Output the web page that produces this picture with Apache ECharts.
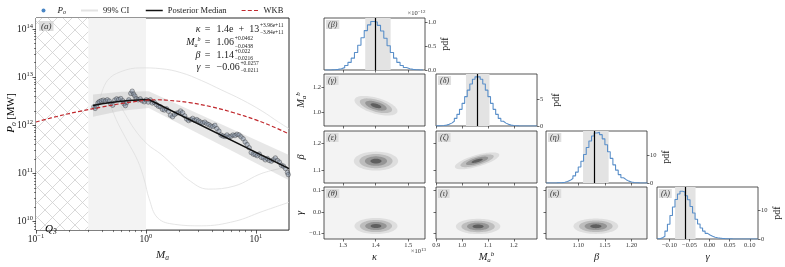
<!DOCTYPE html>
<html><head><meta charset="utf-8">
<script src="https://cdn.jsdelivr.net/npm/echarts@6/dist/echarts.min.js"></script>
<style>html,body{margin:0;padding:0;background:#fff}#c{width:785px;height:267px}</style>
</head><body><div id="c"></div>
<script>
// ---------------- DATA ----------------
// main panel (a)
const maTicks = [0.1, 1, 10];
const pTicks = [1e10, 1e11, 1e12, 1e13, 1e14];
const maRange = [0.1, 20];
const pRange = [6.6e9, 1.7e14];
const hatchRange = [0.1, 0.3];
const shadeRange = [0.3, 1.0];
const obsMa = [0.336,0.345,0.355,0.366,0.376,0.392,0.409,0.427,0.445,0.464,0.478,0.498,0.520,0.542,0.565,0.590,0.615,0.632,0.650,0.670,0.698,0.728,0.750,0.771,0.793,0.815,0.851,0.887,0.925,0.966,1.007,1.05,1.096,1.143,1.191,1.245,1.297,1.352,1.413,1.472,1.538,1.603,1.671,1.746,1.820,1.897,1.982,2.065,2.153,2.249,2.344,2.443,2.553,2.661,2.773,2.897,3.020,3.148,3.289,3.428,3.581,3.733,3.890,4.064,4.236,4.416,4.613,4.808,5.012,5.236,5.458,5.689,5.943,6.194,6.457,6.745,7.031,7.328,7.656,7.980,8.318,8.690,9.057,9.462,9.863,10.28,10.74,11.19,11.67,12.19,12.71,13.24,13.83,14.42,15.03,15.70,16.37,17.06,17.82,18.58,19.36,19.7];
const obsP = [2.42e12,2.24e12,2.49e12,2.90e12,3.08e12,3.23e12,3.33e12,3.18e12,3.38e12,3.18e12,2.81e12,2.61e12,3.33e12,3.54e12,3.43e12,3.59e12,3.23e12,2.81e12,2.56e12,2.99e12,3.38e12,4.59e12,5.11e12,4.45e12,4.06e12,3.59e12,3.38e12,3.54e12,3.23e12,3.08e12,3.38e12,3.03e12,3.38e12,2.90e12,2.99e12,2.69e12,2.49e12,2.42e12,2.14e12,2.07e12,2.20e12,1.95e12,1.62e12,1.50e12,1.67e12,1.78e12,1.83e12,1.98e12,1.83e12,1.57e12,1.35e12,1.25e12,1.31e12,1.39e12,1.27e12,1.31e12,1.23e12,1.16e12,1.12e12,1.16e12,1.07e12,1.03e12,9.64e11,9.35e11,9.95e11,8.53e11,7.55e11,6.28e11,6.00e11,5.82e11,6.28e11,5.74e11,5.92e11,6.28e11,6.10e11,6.49e11,6.28e11,5.74e11,5.24e11,4.49e11,3.97e11,3.41e11,2.71e11,2.51e11,2.44e11,2.33e11,2.51e11,2.16e11,2.09e11,1.91e11,2.03e11,1.85e11,1.79e11,1.91e11,2.09e11,1.85e11,1.71e11,1.47e11,1.41e11,1.26e11,1.04e11,9.4e10];
const medMa = [0.33,0.4,0.5,0.6,0.7,0.85,1.06,20];
const medP = [2.57e12,2.8e12,3.0e12,3.15e12,3.27e12,3.35e12,3.43e12,1.25e11];
const bandMa = [0.33,0.6,1.06,20];
const bandLo = [1.51e12,2.0e12,2.29e12,7.2e10];
const bandHi = [4.37e12,5.0e12,5.1e12,2.4e11];
const wkbMa = [0.1,0.16,0.25,0.4,0.63,1.0,1.26,1.58,2.5,4.0,6.3,10,14,20];
const wkbP = [1.17e12,1.55e12,1.95e12,2.40e12,2.88e12,3.31e12,3.39e12,3.31e12,2.95e12,2.40e12,1.82e12,1.29e12,9.55e11,6.61e11];
const ciLineAMa = [0.386,0.446,0.59,0.90,1.37,2.09,3.2,4.88,7.45,11.35,16.1,20];
const ciLineAP = [3.9e12,8.5e12,1.3e13,1.56e13,1.5e13,1.24e13,8.5e12,5.4e12,3.4e12,1.98e12,1.16e12,8.5e11];
const ciLineBMa = [0.478,0.55,0.68,0.84,0.965,1.07,1.28,1.82,3.2,6.46,11.35,20];
const ciLineBP = [2.5e12,1.16e12,4.6e11,1.85e11,7.4e10,2.95e10,1.18e10,8.7e9,8.1e9,1.01e10,1.6e10,2.5e10];
const ciLineCMa = [0.59,0.78,1.035,1.37,1.82,2.42,3.68,6.46,11.35,20];
const ciLineCP = [2.5e12,8.5e11,4.0e11,2.5e11,1.37e11,7.4e10,4.7e10,5.5e10,1.0e11,1.37e11];
const annotSym = ['κ','M','β','γ'];
const annotVal = ['1.4e  +  13','1.06','1.14','−0.06'];
const annotUp = ['+3.96e+11','+0.0462','+0.022','+0.0257'];
const annotDn = ['−3.84e+11','−0.0438','−0.0216','−0.0211'];

// corner plot
const paramRange = [[1.2415,1.5515],[0.899,1.29],[1.0395,1.229],[-0.131,0.1205]];
const rowRange = [null,[0.894,1.307],[1.05,1.247],[-0.127,0.1175]];
const paramTicks = [[1.3,1.4,1.5],[0.9,1.0,1.1,1.2],[1.10,1.15,1.20],[-0.10,-0.05,0.00,0.05,0.10]];
const paramDec = [1,1,2,2];
const rowTicks = [null,[1.0,1.2],[1.1,1.2],[-0.1,0.0,0.1]];
const histMax = [1.095,9.57,18.6,18.4];
const histTicks = [[0,0.5,1.0],[0,5],[0,10],[0,10]];
const histDec = [1,0,0,0];
const histStart = [1.245,0.90,1.04,-0.13];
const histWidth = [0.01,0.01,0.005,0.00625];
const kappaPdf = [0.001,0.003,0.006,0.013,0.027,0.05,0.095,0.16,0.25,0.37,0.52,0.68,0.83,0.95,1.02,1.01,0.94,0.82,0.67,0.51,0.37,0.25,0.16,0.095,0.052,0.027,0.013,0.006,0.003,0.001];
const mbPdf = [0.02,0.04,0.08,0.16,0.30,0.53,0.88,1.40,2.14,3.06,4.17,5.4,6.6,7.74,8.6,9.05,9.05,8.6,7.74,6.6,5.4,4.17,3.06,2.14,1.40,0.88,0.53,0.30,0.16,0.08,0.04,0.02,0.01,0.01,0,0,0,0,0];
const betaPdf = [0,0.01,0.01,0.03,0.07,0.14,0.28,0.53,0.95,1.6,2.55,3.9,5.7,7.8,10.2,12.7,15.0,16.8,17.9,18.1,17.3,15.8,13.7,11.2,8.8,6.5,4.6,3.0,1.9,1.2,0.67,0.36,0.19,0.09,0.04,0.02,0.01,0];
const gammaPdf = [0.1,0.4,1.0,2.8,5.2,8.3,11.3,14.0,15.9,16.9,16.6,15.3,13.9,11.5,9.2,7.0,5.3,3.9,2.8,2.0,1.4,0.95,0.65,0.45,0.3,0.2,0.13,0.08,0.05,0.03,0.02,0.01,0.01,0,0,0,0,0,0,0];
const histVals = [kappaPdf, mbPdf, betaPdf, gammaPdf];
const paramMedian = [1.402,1.061,1.133,-0.062];
const paramCiLo = [1.368,1.015,1.109,-0.086];
const paramCiHi = [1.446,1.106,1.157,-0.035];
// 2D panels, order: (κ,Mb) (κ,β) (Mb,β) (κ,γ) (Mb,γ) (β,γ)
const pairCx = [1.401,1.401,1.058,1.401,1.062,1.133];
const pairCy = [1.055,1.133,1.134,-0.066,-0.068,-0.067];
const pairSx = [0.033,0.034,0.043,0.033,0.043,0.021];
const pairSy = [0.039,0.018,0.016,0.019,0.018,0.018];
const pairRho = [-0.55,0,0.7,0,0,0];
const contourLevels = [2,1.5,1,0.5];
const panelLabels = ['β','γ','δ','ε','ζ','η','θ','ι','κ','λ'];

// ---------------- BUILD ----------------
const FONT = 'Liberation Serif';
const SERIF = '"Liberation Serif","DejaVu Serif",serif';
const L = Math.log10;
const INK = '#2b2b2b';
const mctx = document.createElement('canvas').getContext('2d');
function tw(t, size, style){ mctx.font = (style||'normal') + ' ' + size + 'px "' + FONT + '"'; return mctx.measureText(t).width; }
function fmt(v,d){ const s = Math.abs(v).toFixed(d); return (v < -1e-9 ? '−' : '') + s; }
const NOLINE = {show:false,onZero:false};

const hatch = document.createElement('canvas');
hatch.width = 15; hatch.height = 15;
(function(){ const g = hatch.getContext('2d'); g.fillStyle='#ffffff'; g.fillRect(0,0,15,15);
  g.strokeStyle='#cfcfcf'; g.lineWidth=0.8; g.beginPath(); g.moveTo(0,0); g.lineTo(15,15); g.moveTo(15,0); g.lineTo(0,15); g.stroke(); })();

const grids=[], xAxes=[], yAxes=[], series=[], graphics=[];
const xMin=L(maRange[0]), xMax=L(maRange[1]), yMin=L(pRange[0]), yMax=L(pRange[1]);
grids.push({left:36, top:18, width:253, height:221, show:true, borderColor:INK, borderWidth:1, backgroundColor:'#fff', z:0});
const powRich = { b:{fontFamily:SERIF,fontSize:9.5,color:'#222',lineHeight:13}, s:{fontFamily:SERIF,fontSize:6.5,color:'#222',lineHeight:7,verticalAlign:'top'} };
function powLabel(v){ const e=Math.round(v); return '{b|10}{s|'+(e<0?'−':'')+Math.abs(e)+'}'; }
const subRich = { i:{fontFamily:SERIF,fontStyle:'italic',fontSize:11,color:'#222',lineHeight:14},
                  sub:{fontFamily:SERIF,fontStyle:'italic',fontSize:7.5,color:'#222',lineHeight:7,verticalAlign:'bottom'},
                  sup:{fontFamily:SERIF,fontStyle:'italic',fontSize:7.5,color:'#222',lineHeight:7,verticalAlign:'top'},
                  t:{fontFamily:SERIF,fontSize:10.5,color:'#222',lineHeight:14} };
xAxes.push({gridIndex:0,type:'value',position:'bottom',min:xMin,max:xMax,axisLine:NOLINE,splitLine:{show:false},
  axisTick:{customValues:maTicks.map(L),length:3.5,lineStyle:{color:INK,width:0.8}},
  axisLabel:{customValues:maTicks.map(L),formatter:powLabel,rich:powRich,margin:3},
  name:'{i|M}{sub|a}',nameLocation:'middle',nameGap:11,nameTextStyle:{rich:subRich}});
yAxes.push({gridIndex:0,type:'value',position:'left',min:yMin,max:yMax,axisLine:NOLINE,splitLine:{show:false},
  axisTick:{customValues:pTicks.map(L),length:3.5,lineStyle:{color:INK,width:0.8}},
  axisLabel:{customValues:pTicks.map(L),formatter:powLabel,rich:powRich,margin:3}});
// minor ticks
const minorX=[], minorY=[];
[-1,0,1].forEach(d=>{ for(let k=2;k<=9;k++){ const v=d+L(k); if(v<xMax-1e-6) minorX.push(v);} });
[9,10,11,12,13,14].forEach(d=>{ for(let k=2;k<=9;k++){ const v=d+L(k); if(v>yMin && v<yMax) minorY.push(v);} });
xAxes.push({gridIndex:0,type:'value',position:'bottom',min:xMin,max:xMax,axisLine:NOLINE,splitLine:{show:false},axisLabel:{show:false},
  axisTick:{customValues:minorX,length:2,lineStyle:{color:INK,width:0.6}}});
yAxes.push({gridIndex:0,type:'value',position:'left',min:yMin,max:yMax,axisLine:NOLINE,splitLine:{show:false},axisLabel:{show:false},
  axisTick:{customValues:minorY,length:2,lineStyle:{color:INK,width:0.6}}});

function regionSeries(range, fill, z){
  return {type:'custom',xAxisIndex:0,yAxisIndex:0,silent:true,clip:true,z:z,
    data:[[L(range[0]),L(range[1])]],
    renderItem:(params,api)=>{ const cs=params.coordSys; const a=api.coord([api.value(0),yMin]); const b=api.coord([api.value(1),yMin]);
      return {type:'rect',shape:{x:a[0],y:cs.y,width:b[0]-a[0],height:cs.height},style:{fill:fill}}; }};
}
series.push(regionSeries(hatchRange,{image:hatch,repeat:'repeat'},1));
series.push(regionSeries(shadeRange,'#f3f3f3',1));
[[ciLineAMa,ciLineAP],[ciLineBMa,ciLineBP],[ciLineCMa,ciLineCP]].forEach(([m,p])=>{
  series.push({type:'line',name:'99% CI',xAxisIndex:0,yAxisIndex:0,data:m.map((v,i)=>[L(v),L(p[i])]),smooth:0.4,symbol:'none',
    itemStyle:{color:'#dedede'},lineStyle:{color:'#dedede',width:0.8},silent:true,z:2,clip:true});
});
series.push({type:'custom',xAxisIndex:0,yAxisIndex:0,silent:true,clip:true,z:3,data:[[L(bandMa[0]),L(bandLo[0])]],
  renderItem:(params,api)=>{ const pts=[];
    for(let i=0;i<bandMa.length;i++) pts.push(api.coord([L(bandMa[i]),L(bandHi[i])]));
    for(let i=bandMa.length-1;i>=0;i--) pts.push(api.coord([L(bandMa[i]),L(bandLo[i])]));
    return {type:'polygon',shape:{points:pts},style:{fill:'rgba(175,175,175,0.3)'}}; }});
series.push({type:'scatter',name:'Po',xAxisIndex:0,yAxisIndex:0,data:obsMa.map((v,i)=>[L(v),L(obsP[i])]),symbolSize:4.5,
  itemStyle:{color:'rgba(125,142,165,0.55)',borderColor:'rgba(45,45,45,0.8)',borderWidth:0.6},z:4});
series.push({type:'line',name:'Posterior Median',xAxisIndex:0,yAxisIndex:0,data:medMa.map((v,i)=>[L(v),L(medP[i])]),smooth:false,symbol:'none',
  itemStyle:{color:'#111'},lineStyle:{color:'#111',width:1.5},z:5});
series.push({type:'line',name:'WKB',xAxisIndex:0,yAxisIndex:0,data:wkbMa.map((v,i)=>[L(v),L(wkbP[i])]),smooth:0.4,symbol:'none',
  itemStyle:{color:'#c0282d'},lineStyle:{color:'#c0282d',width:1.2,type:[4,2.2]},z:6});

// ---- corner ----
const colLeft=[324,436,546,657], colW=101, rowTop=[18,74,131,187], rowH=52;
const levelColors=['#dedede','#bdbdbd','#959595','#5f5f5f'];
const paramName=['{i|κ}','{i|M}{sub|a}{sup|b}','{i|β}','{i|γ}'];
const cRich = { i:{fontFamily:SERIF,fontStyle:'italic',fontSize:10.5,color:'#222',lineHeight:13},
                sub:{fontFamily:SERIF,fontStyle:'italic',fontSize:7,color:'#222',lineHeight:6,verticalAlign:'bottom'},
                sup:{fontFamily:SERIF,fontStyle:'italic',fontSize:7,color:'#222',lineHeight:6,verticalAlign:'top'} };
const tickFont = {fontFamily:SERIF,fontSize:6.5,color:'#333'};
let gi=1, pi=0, li=0;
for(let r=0;r<4;r++) for(let c=0;c<=r;c++){
  const isHist=r===c, bottom=r===3;
  grids.push({left:colLeft[c],top:rowTop[r],width:colW,height:rowH,show:true,borderColor:INK,borderWidth:0.8,backgroundColor:isHist?'#fff':'#f3f3f3'});
  const xi = xAxes.length, yi = yAxes.length;
  xAxes.push({gridIndex:gi,type:'value',position:'bottom',min:paramRange[c][0],max:paramRange[c][1],axisLine:NOLINE,splitLine:{show:false},
    axisTick:{customValues:paramTicks[c],length:2.5,lineStyle:{color:INK,width:0.7}},
    axisLabel:Object.assign({show:bottom,customValues:paramTicks[c],formatter:(v)=>fmt(v,paramDec[c]),margin:3},tickFont),
    name:bottom?paramName[c]:'',nameLocation:'middle',nameGap:12,nameTextStyle:{rich:cRich}});
  if(isHist){
    yAxes.push({gridIndex:gi,type:'value',position:'right',min:0,max:histMax[c],axisLine:NOLINE,splitLine:{show:false},
      axisTick:{customValues:histTicks[c],length:2.5,lineStyle:{color:INK,width:0.7}},
      axisLabel:Object.assign({customValues:histTicks[c],formatter:(v)=>fmt(v,histDec[c]),margin:3},tickFont),
      name:'pdf',nameLocation:'middle',nameRotate:90,nameGap:14,nameTextStyle:{fontFamily:SERIF,fontSize:10,color:'#222'}});
    const pts=[]; const vals=histVals[c];
    for(let k=0;k<vals.length;k++) pts.push([histStart[c]+k*histWidth[c],vals[k]]);
    pts.push([histStart[c]+vals.length*histWidth[c],vals[vals.length-1]]);
    series.push({type:'line',xAxisIndex:xi,yAxisIndex:yi,data:pts,step:'end',symbol:'none',silent:true,clip:true,
      lineStyle:{color:'#5a8fc9',width:1.1},z:3,
      markArea:{silent:true,itemStyle:{color:'#e3e3e3'},data:[[{xAxis:paramCiLo[c]},{xAxis:paramCiHi[c]}]]},
      markLine:{silent:true,symbol:['none','none'],label:{show:false},lineStyle:{color:'#000',width:1.2,type:'solid'},data:[{xAxis:paramMedian[c]}]}});
  } else {
    yAxes.push({gridIndex:gi,type:'value',position:'left',min:rowRange[r][0],max:rowRange[r][1],axisLine:NOLINE,splitLine:{show:false},
      axisTick:{customValues:rowTicks[r],length:2.5,lineStyle:{color:INK,width:0.7}},
      axisLabel:Object.assign({show:c===0,customValues:rowTicks[r],formatter:(v)=>fmt(v,1),margin:3},tickFont),
      name:c===0?paramName[r]:'',nameLocation:'middle',nameGap:16,nameTextStyle:{rich:cRich}});
    const k=pi;
    series.push({type:'custom',xAxisIndex:xi,yAxisIndex:yi,silent:true,clip:true,z:3,data:[[pairCx[k],pairCy[k]]],
      renderItem:(params,api)=>{
        const ch=[]; const rr=Math.sqrt(1-pairRho[k]*pairRho[k]);
        contourLevels.forEach((s,li2)=>{ const pts=[];
          for(let a=0;a<72;a++){ const t=a/72*2*Math.PI;
            const x=pairCx[k]+s*pairSx[k]*Math.cos(t);
            const y=pairCy[k]+s*pairSy[k]*(pairRho[k]*Math.cos(t)+rr*Math.sin(t));
            pts.push(api.coord([x,y])); }
          ch.push({type:'polygon',shape:{points:pts},style:{fill:levelColors[li2]}}); });
        return {type:'group',children:ch}; }});
    pi++;
  }
  graphics.push({type:'text',left:colLeft[c]+2,top:rowTop[r]+2,z:50,
    style:{text:'('+panelLabels[li]+')',font:'italic 8px '+SERIF,fill:'#333',backgroundColor:'rgba(215,215,215,0.8)',padding:[1,2,0,2]}});
  li++; gi++;
}

// ---- text graphics ----
graphics.push({type:'text',x:11,y:113,rotation:Math.PI/2,z:50,
  style:{text:'{i|P}{sub|o}{t| [MW]}',rich:subRich,align:'center',verticalAlign:'middle'}});
graphics.push({type:'text',left:39,top:21,z:50,style:{text:'(a)',font:'italic 9px '+SERIF,fill:'#333',backgroundColor:'rgba(215,215,215,0.85)',padding:[1,2,0,2]}});
graphics.push({type:'text',x:45,y:229,z:50,style:{text:'{i|Q}{sub|3}',rich:subRich,align:'left',verticalAlign:'middle'}});
graphics.push({type:'text',x:425.5,y:13,z:50,style:{text:'×10{s|−12}',font:'6.5px '+SERIF,fill:'#333',align:'right',verticalAlign:'middle',
  rich:{s:{fontFamily:SERIF,fontSize:5,lineHeight:5,verticalAlign:'top',fill:'#333'}}}});
graphics.push({type:'text',x:426,y:251,z:50,style:{text:'×10{s|13}',font:'6.5px '+SERIF,fill:'#333',align:'right',verticalAlign:'middle',
  rich:{s:{fontFamily:SERIF,fontSize:5,lineHeight:5,verticalAlign:'top',fill:'#333'}}}});
// annotation block
const VS=10, SS=5.5, annotY=[29,42.5,55,67];
const ws0=Math.max(tw(annotUp[0],SS),tw(annotDn[0],SS));
const valueLeft = 283.5 - tw(annotVal[0],VS) - ws0 - 0.8;
for(let i=0;i<4;i++){
  const y=annotY[i];
  const symText = i===1 ? '{i|M}{sub|a}{sup|b}' : '{i|'+annotSym[i]+'}';
  graphics.push({type:'text',x:valueLeft-16,y:y,z:50,style:{text:symText,align:'right',verticalAlign:'middle',
    rich:{i:{fontFamily:SERIF,fontStyle:'italic',fontSize:VS,fill:'#222',lineHeight:12},
          sub:{fontFamily:SERIF,fontStyle:'italic',fontSize:6,fill:'#222',lineHeight:6,verticalAlign:'bottom'},
          sup:{fontFamily:SERIF,fontStyle:'italic',fontSize:6,fill:'#222',lineHeight:6,verticalAlign:'top'}}}});
  graphics.push({type:'text',x:valueLeft-9,y:y,z:50,style:{text:'=',font:VS+'px '+SERIF,fill:'#222',align:'center',verticalAlign:'middle'}});
  graphics.push({type:'text',x:valueLeft,y:y,z:50,style:{text:annotVal[i],font:VS+'px '+SERIF,fill:'#222',align:'left',verticalAlign:'middle'}});
  const sx=valueLeft+tw(annotVal[i],VS)+0.8;
  graphics.push({type:'text',x:sx,y:y-3.6,z:50,style:{text:annotUp[i],font:SS+'px '+SERIF,fill:'#222',align:'left',verticalAlign:'middle'}});
  graphics.push({type:'text',x:sx,y:y+3.6,z:50,style:{text:annotDn[i],font:SS+'px '+SERIF,fill:'#222',align:'left',verticalAlign:'middle'}});
}

// legends
const legText = {fontFamily:SERIF,fontSize:8.5,color:'#222',rich:{i:{fontFamily:SERIF,fontStyle:'italic',fontSize:9,color:'#222'},sub:{fontFamily:SERIF,fontStyle:'italic',fontSize:6,color:'#222',verticalAlign:'bottom',lineHeight:6}}};
const noSym = {color:'rgba(0,0,0,0)',borderWidth:0,opacity:0};
const legends = [
  {left:41.5,data:[{name:'Po',icon:'circle',itemStyle:{color:'#4a86c5',borderWidth:0,opacity:1}}],itemWidth:4,itemHeight:4,
    textStyle:Object.assign({},legText,{padding:[0,0,0,7]})},
  {left:80,data:[{name:'99% CI',itemStyle:noSym,lineStyle:{color:'#e3e3e3',width:2}}],itemHeight:8},
  {left:145,data:[{name:'Posterior Median',itemStyle:noSym,lineStyle:{color:'#111',width:1.5}}],itemHeight:8},
  {left:241,data:[{name:'WKB',itemStyle:noSym,lineStyle:{color:'#c0282d',width:1.2,type:[4,2.2]}}],itemHeight:8}
].map(l=>Object.assign({top:6,itemWidth:17,selectedMode:false,padding:0,textStyle:legText,
  formatter:(n)=>n==='Po'?'{i|P}{sub|o}':n},l));

const chart = echarts.init(document.getElementById('c'),null,{renderer:'canvas'});
chart.setOption({animation:false,backgroundColor:'#fff',textStyle:{fontFamily:SERIF},
  grid:grids,xAxis:xAxes,yAxis:yAxes,series:series,legend:legends,graphic:graphics});
</script></body></html>
